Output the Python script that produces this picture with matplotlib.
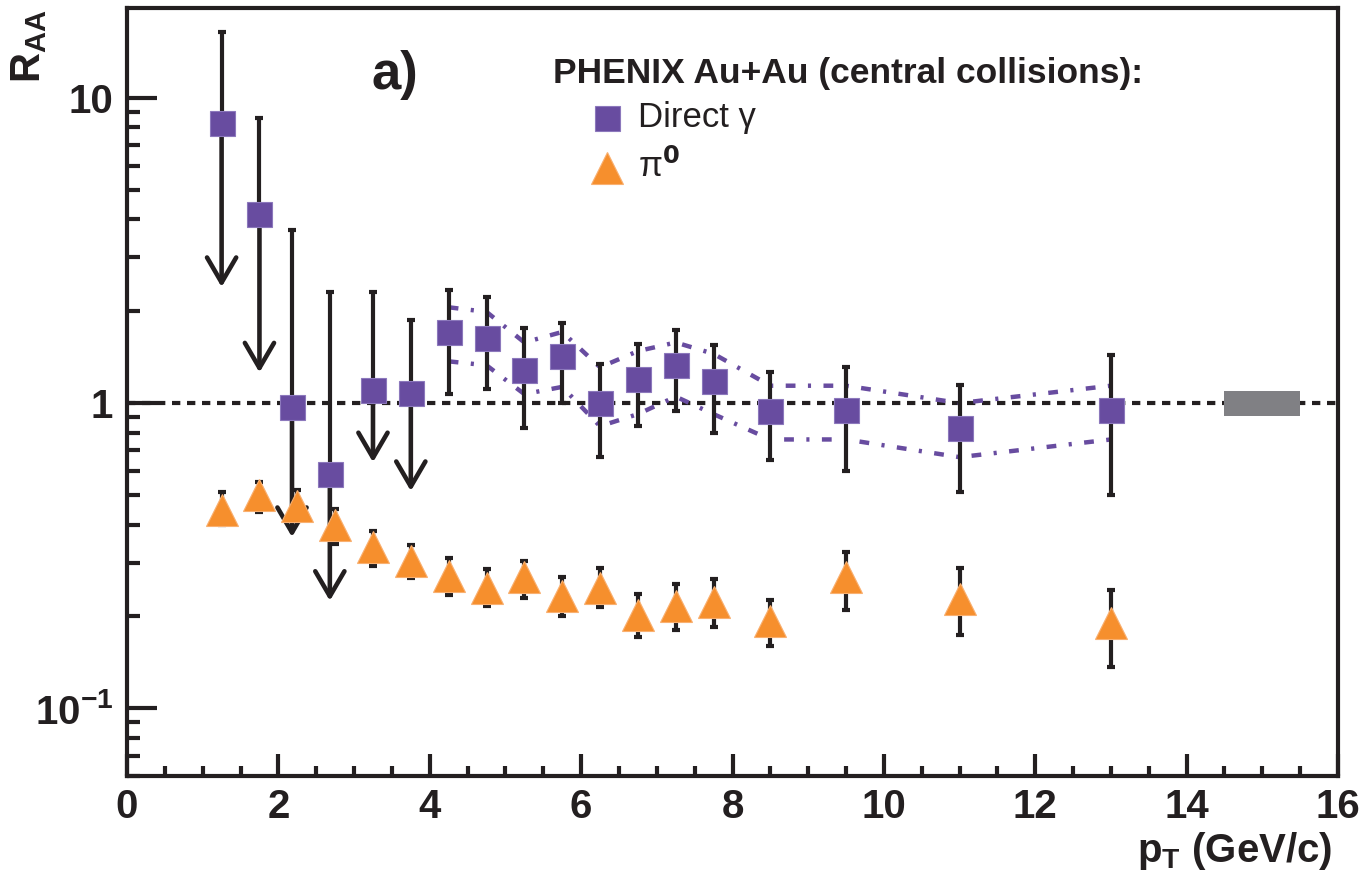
import matplotlib
matplotlib.use("Agg")
import matplotlib.pyplot as plt
from matplotlib.ticker import FixedLocator, FixedFormatter, LogLocator, NullFormatter, MultipleLocator

# --- données ---
# photons directs
gam_pt = [1.25, 1.75, 2.18, 2.68, 3.25, 3.75, 4.25, 4.75, 5.25, 5.75,
          6.25, 6.75, 7.25, 7.75, 8.5, 9.5, 11.0, 13.0]
gam_raa = [8.3, 4.16, 0.97, 0.586, 1.10, 1.08, 1.71, 1.64, 1.28, 1.43,
           1.0, 1.2, 1.33, 1.18, 0.94, 0.95, 0.83, 0.95]
gam_haut = [16.4, 8.6, 3.7, 2.31, 2.31, 1.87, 2.34, 2.22, 1.76, 1.83,
            1.34, 1.56, 1.73, 1.55, 1.26, 1.31, 1.15, 1.44]
gam_bas = [None, None, None, None, None, None, 1.07, 1.11, 0.83, 1.0,
           0.666, 0.84, 0.94, 0.80, 0.65, 0.60, 0.51, 0.50]
# pointe des flèches (limites) pour les 6 premiers points
gam_fleche = [2.4, 1.26, 0.364, 0.225, 0.64, 0.515]

# bande systématique (tirets-points)
sys_pt = [4.25, 4.75, 5.25, 5.75, 6.25, 6.75, 7.25, 7.75, 8.5, 9.5, 11.0, 13.0]
sys_haut = [2.06, 1.99, 1.58, 1.71, 1.31, 1.48, 1.58, 1.45, 1.14, 1.14, 1.0, 1.14]
sys_bas = [1.37, 1.33, 1.07, 1.13, 0.84, 0.92, 1.05, 0.92, 0.76, 0.76, 0.665, 0.76]

# pi0
pi_pt = [1.25, 1.75, 2.25, 2.75, 3.25, 3.75, 4.25, 4.75, 5.25, 5.75,
         6.25, 6.75, 7.25, 7.75, 8.5, 9.5, 11.0, 13.0]
pi_raa = [0.446, 0.50, 0.46, 0.40, 0.338, 0.304, 0.272, 0.248, 0.269, 0.233,
          0.248, 0.202, 0.217, 0.223, 0.193, 0.27, 0.228, 0.19]
pi_haut = [0.51, 0.55, 0.52, 0.45, 0.38, 0.343, 0.31, 0.285, 0.304, 0.27,
           0.289, 0.237, 0.255, 0.265, 0.227, 0.325, 0.289, 0.245]
pi_bas = [0.40, 0.44, 0.41, 0.345, 0.293, 0.268, 0.235, 0.216, 0.23, 0.20,
          0.215, 0.171, 0.18, 0.185, 0.16, 0.21, 0.174, 0.137]

# incertitude globale (boîte grise)
boite_x = [14.5, 15.5]
boite_bas, boite_haut = 0.905, 1.095

VIOLET = "#684ca0"
ORANGE = "#f68f2d"
NOIR = "#231f20"
GRIS = "#808084"

POLICE = ["Liberation Sans Narrow", "Liberation Sans", "DejaVu Sans"]
plt.rcParams["font.family"] = POLICE
plt.rcParams["mathtext.default"] = "regular"

fig = plt.figure(figsize=(13.61, 8.76), dpi=100)
ax = fig.add_axes([127 / 1361, 1 - 776 / 876, 1211 / 1361, 768 / 876])

ax.set_yscale("log")
ax.set_xlim(0, 16)
ax.set_ylim(0.06, 19.7)

# ligne R_AA = 1
ax.axhline(1.0, color=NOIR, lw=3, ls=(0, (2.0, 1.6)), zorder=1)

# boîte grise
ax.fill_between(boite_x, boite_bas, boite_haut, color=GRIS, lw=0, zorder=2)

# bande systématique
ax.plot(sys_pt, sys_haut, color=VIOLET, lw=3.2, ls=(0, (2.2, 2.8, 0.7, 2.8)), zorder=2)
ax.plot(sys_pt, sys_bas, color=VIOLET, lw=3.2, ls=(0, (2.2, 2.8, 0.7, 2.8)), zorder=2)

# barres d'erreur gamma
for i in range(len(gam_pt)):
    x, y = gam_pt[i], gam_raa[i]
    if gam_bas[i] is None:
        ax.errorbar([x], [y], yerr=[[0], [gam_haut[i] - y]], fmt="none",
                    ecolor=NOIR, elinewidth=3, capsize=3, capthick=3, zorder=3)
        ax.annotate("", xy=(x, gam_fleche[i]), xytext=(x, y),
                    arrowprops=dict(arrowstyle="->,head_length=0.6,head_width=0.35",
                                    color=NOIR, lw=3.3, shrinkA=0, shrinkB=0,
                                    mutation_scale=30),
                    zorder=3)
    else:
        ax.errorbar([x], [y], yerr=[[y - gam_bas[i]], [gam_haut[i] - y]], fmt="none",
                    ecolor=NOIR, elinewidth=3, capsize=3, capthick=3, zorder=3)

# barres d'erreur pi0
pi_err = [[v - b for v, b in zip(pi_raa, pi_bas)], [h - v for v, h in zip(pi_raa, pi_haut)]]
ax.errorbar(pi_pt, pi_raa, yerr=pi_err, fmt="none", ecolor=NOIR,
            elinewidth=3, capsize=3, capthick=3, zorder=3)

# marqueurs
ax.plot(gam_pt, gam_raa, "s", color=VIOLET, ms=18, mec="#8c78bc", mew=0.8, zorder=5)
ax.plot(pi_pt, pi_raa, "^", color=ORANGE, ms=23, mec="#f9b070", mew=0.8, zorder=5)

# axes
for s in ax.spines.values():
    s.set_linewidth(3)
    s.set_color(NOIR)
ax.xaxis.set_major_locator(MultipleLocator(2))
ax.xaxis.set_minor_locator(MultipleLocator(0.5))
ax.yaxis.set_major_locator(FixedLocator([0.1, 1, 10]))
ax.yaxis.set_major_formatter(FixedFormatter(["10$^{-1}$", "1", "10"]))
ax.yaxis.set_minor_locator(LogLocator(base=10, subs=range(2, 10)))
ax.yaxis.set_minor_formatter(NullFormatter())
ax.tick_params(axis="both", which="both", direction="in", color=NOIR, width=3,
               top=False, right=False)
ax.tick_params(axis="x", which="major", length=16, pad=9)
ax.tick_params(axis="x", which="minor", length=7.5)
ax.tick_params(axis="y", which="major", length=21.5, pad=10)
ax.tick_params(axis="y", which="minor", length=9.5)
for lab in ax.get_xticklabels() + ax.get_yticklabels():
    lab.set_fontsize(29)
    lab.set_fontweight("bold")
    lab.set_color(NOIR)

# titres des axes
fig.text(29 / 1361, 1 - 9 / 876, "R$_{AA}$", rotation=90, ha="center", va="top",
         fontsize=30, fontweight="bold", color=NOIR)
fig.text(1332 / 1361, 1 - 862 / 876, "p$_{T}$ (GeV/c)", ha="right", va="baseline",
         fontsize=29, fontweight="bold", color=NOIR)

# étiquette a)
ax.text(3.54, 11.9, "a)", ha="center", va="center", fontsize=38,
        fontweight="bold", color=NOIR)

# légende manuelle
ax.text((553 - 127) / 1211, 1 - (73 - 8) / 768, "PHENIX Au+Au (central collisions):",
        transform=ax.transAxes, ha="left", va="center", fontsize=25.5,
        fontweight="bold", color=NOIR)
ax.plot([(607 - 127) / 1211], [1 - (118 - 8) / 768], "s", color=VIOLET, ms=18,
        mec="#8c78bc", mew=0.8, transform=ax.transAxes, clip_on=False)
ax.plot([(607 - 127) / 1211], [1 - (168 - 8) / 768], "^", color=ORANGE, ms=23,
        mec="#f9b070", mew=0.8, transform=ax.transAxes, clip_on=False)
ax.text((638 - 127) / 1211, 1 - (118 - 8) / 768, "Direct γ", transform=ax.transAxes,
        ha="left", va="center", fontsize=25, family=["Liberation Sans", "DejaVu Sans"],
        color=NOIR)
ax.text((638 - 127) / 1211, 1 - (166 - 8) / 768, "π$^{\\mathbf{0}}$", transform=ax.transAxes,
        ha="left", va="center", fontsize=25, family=["Liberation Sans", "DejaVu Sans"],
        color=NOIR)

fig.savefig("out.png", dpi=100)
